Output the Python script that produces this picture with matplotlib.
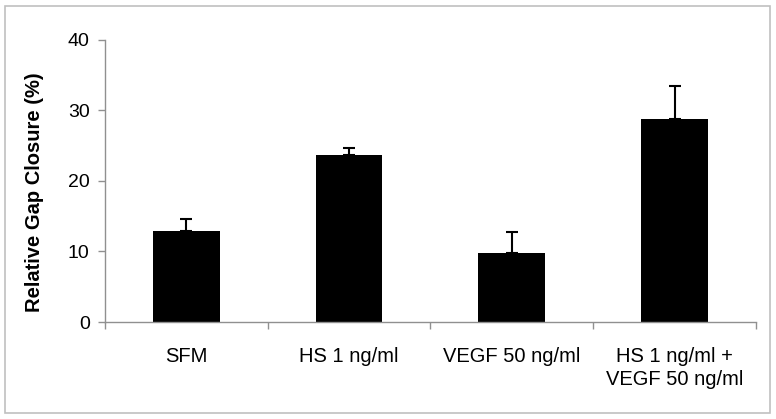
import numpy as np
import matplotlib
matplotlib.use("Agg")
import matplotlib.pyplot as plt
from matplotlib.patches import Rectangle

plt.rcParams['font.family'] = ['Liberation Sans', 'DejaVu Sans']

# data
categories = ["SFM", "HS 1 ng/ml", "VEGF 50 ng/ml", "HS 1 ng/ml +\nVEGF 50 ng/ml"]
closure = [12.9, 23.7, 9.8, 28.8]
closure_err = [1.7, 1.0, 3.0, 4.6]

fig = plt.figure(figsize=(7.76, 4.19), dpi=100)
ax = fig.add_axes([0.1353, 0.2315, 0.8389, 0.6742])

x = np.arange(len(categories))
ax.bar(x, closure, width=0.41, color="black", zorder=2)
ax.errorbar(x, closure, yerr=[np.zeros(len(closure)), closure_err], fmt="none",
            ecolor="black", elinewidth=1.5, capsize=4.3, capthick=1.5, zorder=3)

ax.set_xlim(-0.5, len(categories) - 0.5)
ax.set_ylim(0, 40)
ax.set_yticks([0, 10, 20, 30, 40])
ax.set_yticklabels(["0", "10", "20", "30", "40"], fontsize=14)

# ticks at category boundaries, labels at the centres
ax.set_xticks(np.arange(len(categories) + 1) - 0.5)
ax.set_xticklabels([])
ax.set_xticks(x, minor=True)
ax.set_xticklabels(categories, minor=True, fontsize=14.5, linespacing=1.25, va="top")
ax.tick_params(axis="x", which="minor", length=0, pad=18)
ax.tick_params(axis="x", which="major", length=5, color="#909090", width=1)
ax.tick_params(axis="y", length=5, color="#909090", width=1, pad=6)

for s in ["top", "right"]:
    ax.spines[s].set_visible(False)
for s in ["left", "bottom"]:
    ax.spines[s].set_color("#909090")
    ax.spines[s].set_linewidth(1)

ax.set_ylabel("Relative Gap Closure (%)", fontsize=14.5, fontweight="bold")
ax.yaxis.set_label_coords(-0.094, 0.46)

# light grey frame around the whole chart
fig.patches.append(Rectangle((5 / 776, 6 / 419), 765 / 776, 407 / 419,
                             transform=fig.transFigure, fill=False,
                             edgecolor="#c0c0c0", linewidth=1.2))

fig.savefig("out.png", dpi=100)
